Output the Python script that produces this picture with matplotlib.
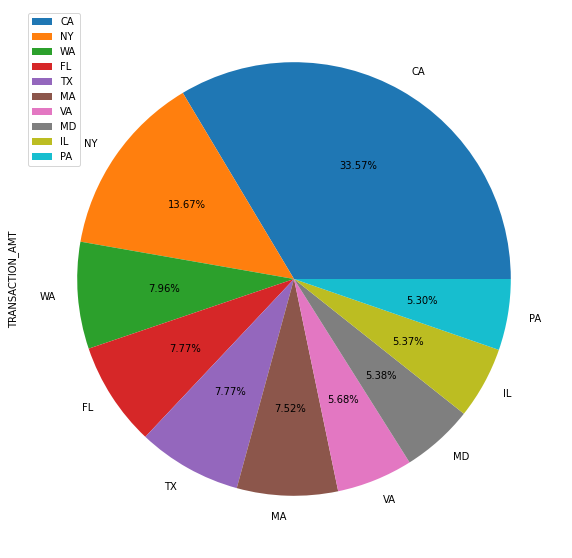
import matplotlib
matplotlib.use("Agg")
import matplotlib.pyplot as plt

states = ["CA", "NY", "WA", "FL", "TX", "MA", "VA", "MD", "IL", "PA"]
shares = [33.57, 13.67, 7.96, 7.77, 7.77, 7.52, 5.68, 5.38, 5.37, 5.30]

dpi = 72
fig = plt.figure(figsize=(572 / dpi, 558 / dpi), dpi=dpi)
ax = fig.add_axes([23 / 572, 8 / 558, 542 / 572, 542 / 558])
colors = plt.rcParams["axes.prop_cycle"].by_key()["color"]
wedges, texts, autotexts = ax.pie(shares, labels=states, autopct="%.2f%%",
                                  colors=colors[:len(states)])
ax.set_ylabel("TRANSACTION_AMT")
ax.legend(wedges, states, loc="upper left")
fig.savefig("out.png", dpi=dpi)
